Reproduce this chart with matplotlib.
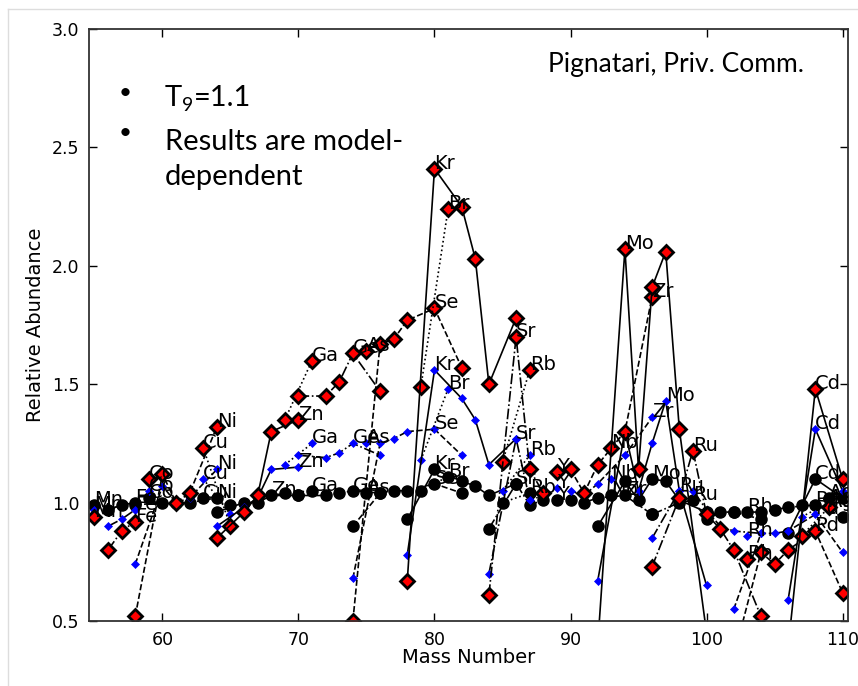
import matplotlib
matplotlib.use("Agg")
import matplotlib.pyplot as plt
from matplotlib.lines import Line2D
import numpy as np

# isotopes per element (mass numbers) and relative abundance for three runs
elements = ["Mn", "Fe", "Co", "Ni", "Cu", "Zn", "Ga", "Ge", "As", "Se", "Br", "Kr",
            "Rb", "Sr", "Y", "Zr", "Nb", "Mo", "Ru", "Rh", "Pd", "Ag", "Cd"]
charge = [25, 26, 27, 28, 29, 30, 31, 32, 33, 34, 35, 36,
          37, 38, 39, 40, 41, 42, 44, 45, 46, 47, 48]
masses = [
    [55], [56, 57, 58], [59], [58, 60, 61, 62, 64], [63, 65],
    [64, 66, 67, 68, 70], [69, 71], [70, 72, 73, 74, 76], [75],
    [74, 76, 77, 78, 80, 82], [79, 81], [78, 80, 82, 83, 84, 86],
    [85, 87], [84, 86, 87, 88], [89], [90, 91, 92, 94, 96], [93],
    [92, 94, 95, 96, 97, 98, 100], [96, 98, 99, 100, 101, 102, 104],
    [103], [102, 104, 105, 106, 108, 110], [107, 109], [106, 108, 110],
]
black = [
    [0.99], [0.97, 0.99, 1.00], [1.02], [0.99, 1.00, 1.00, 1.00, 1.02], [1.02, 0.99],
    [0.96, 1.00, 1.00, 1.03, 1.03], [1.04, 1.05], [1.03, 1.03, 1.04, 1.05, 1.04], [1.04],
    [0.90, 1.04, 1.05, 1.05, 1.08, 1.04], [1.05, 1.11], [0.93, 1.14, 1.09, 1.07, 1.03, 1.08],
    [1.00, 1.04], [0.89, 1.08, 0.99, 1.01], [1.01], [1.01, 1.00, 1.02, 1.03, 0.95], [1.03],
    [0.90, 1.09, 1.01, 1.10, 1.09, 1.01, 0.96], [0.95, 1.00, 1.01, 0.93, 0.96, 0.96, 0.93],
    [0.96], [0.96, 0.96, 0.97, 0.98, 0.99, 0.94], [0.99, 1.02], [0.87, 1.10, 1.02],
]
blue = [
    [0.97], [0.90, 0.93, 0.97], [1.05], [0.74, 1.07, 1.00, 1.02, 1.14], [1.10, 0.95],
    [0.90, 0.98, 1.02, 1.14, 1.15], [1.16, 1.25], [1.20, 1.19, 1.21, 1.25, 1.20], [1.25],
    [0.68, 1.25, 1.27, 1.30, 1.31, 1.20], [1.18, 1.48], [0.78, 1.56, 1.44, 1.35, 1.16, 1.27],
    [1.05, 1.20], [0.70, 1.27, 1.01, 1.03], [1.06], [1.05, 1.03, 1.08, 1.20, 1.36], [1.10],
    [0.67, 1.30, 1.05, 1.25, 1.43, 1.05, 0.65], [0.85, 1.05, 1.05, 0.97, 0.90, 0.88, 0.87],
    [0.86], [0.55, 0.87, 0.87, 0.88, 0.95, 0.79], [0.94, 1.00], [0.59, 1.31, 1.05],
]
red = [
    [0.94], [0.80, 0.88, 0.92], [1.10], [0.52, 1.12, 1.00, 1.04, 1.32], [1.23, 0.90],
    [0.85, 0.96, 1.03, 1.30, 1.35], [1.35, 1.60], [1.45, 1.45, 1.51, 1.63, 1.47], [1.64],
    [0.50, 1.67, 1.69, 1.77, 1.82, 1.57], [1.49, 2.24], [0.67, 2.41, 2.25, 2.03, 1.50, 1.78],
    [1.17, 1.56], [0.61, 1.70, 1.14, 1.04], [1.13], [1.14, 1.04, 1.16, 1.30, 1.87], [1.23],
    [0.40, 2.07, 1.14, 1.91, 2.06, 1.31, 0.45], [0.73, 1.02, 1.22, 0.95, 0.89, 0.80, 0.52],
    [0.76], [0.35, 0.79, 0.74, 0.80, 0.88, 0.62], [0.86, 0.98], [0.39, 1.48, 1.10],
]

style_by_z = {0: "-", 4: "--", 2: "-."}

fig = plt.figure(figsize=(8.58, 6.86), dpi=100)
ax = fig.add_axes([89 / 858, 1 - 621 / 686, 759 / 858, 592 / 686])

runs = [
    (black, dict(marker="o", ms=8, mfc="k", mec="k")),
    (blue, dict(marker="D", ms=4, mfc="blue", mec="blue", mew=0.5)),
    (red, dict(marker="D", ms=7, mfc="red", mec="k", mew=2)),
]
for vals, mk in runs:
    for name, z, m, v in zip(elements, charge, masses, vals):
        ls = style_by_z.get(z % 6, ":")
        ax.plot(m, v, ls=ls, color="k", lw=1.2, **mk)
        i = int(np.argmax(v))
        ax.text(m[i], v[i], name, fontsize=14, color="k", clip_on=True)

ax.set_xlim(54.6, 110.4)
ax.set_ylim(0.5, 3.0)
ax.set_xticks([60, 70, 80, 90, 100, 110])
ax.set_yticks([0.5, 1.0, 1.5, 2.0, 2.5, 3.0])
ax.tick_params(direction="in", top=True, right=True, length=6, width=1,
               labelsize=12.5, pad=7)
for sp in ax.spines.values():
    sp.set_linewidth(1.3)
    sp.set_color("#333333")
ax.set_xlabel("Mass Number", fontsize=14)
ax.set_ylabel("Relative Abundance", fontsize=14)
ax.xaxis.set_label_coords(0.5, -0.046)
ax.yaxis.set_label_coords(-0.058, 0.5)

# slide text on top of the chart
fig.text(548 / 858, 1 - 72 / 686, "Pignatari, Priv. Comm.", fontsize=19,
         family="Lato", va="baseline", ha="left")
for yb in [93, 133]:
    fig.text(125 / 858, 1 - yb / 686, "\u2022", fontsize=16, family="Lato",
             ha="center", va="center")
t1 = fig.text(165 / 858, 1 - 106 / 686, "T", fontsize=21, family="Lato", va="baseline")
r = fig.canvas.get_renderer()
bb = t1.get_window_extent(r)
t2 = fig.text(bb.x1 / 858, 1 - 111 / 686, "9", fontsize=14, family="Lato", va="baseline")
bb2 = t2.get_window_extent(r)
fig.text(bb2.x1 / 858, 1 - 106 / 686, "=1.1", fontsize=21, family="Lato", va="baseline")
fig.text(165 / 858, 1 - 150 / 686, "Results are model-", fontsize=21, family="Lato",
         va="baseline")
fig.text(165 / 858, 1 - 185 / 686, "dependent", fontsize=21, family="Lato", va="baseline")

# slide frame
fig.add_artist(Line2D([8 / 858, 8 / 858], [0, 1 - 9 / 686], color="#dddddd", lw=1))
fig.add_artist(Line2D([8 / 858, 1], [1 - 9 / 686, 1 - 9 / 686], color="#dddddd", lw=1))

fig.savefig("out.png", dpi=100)
